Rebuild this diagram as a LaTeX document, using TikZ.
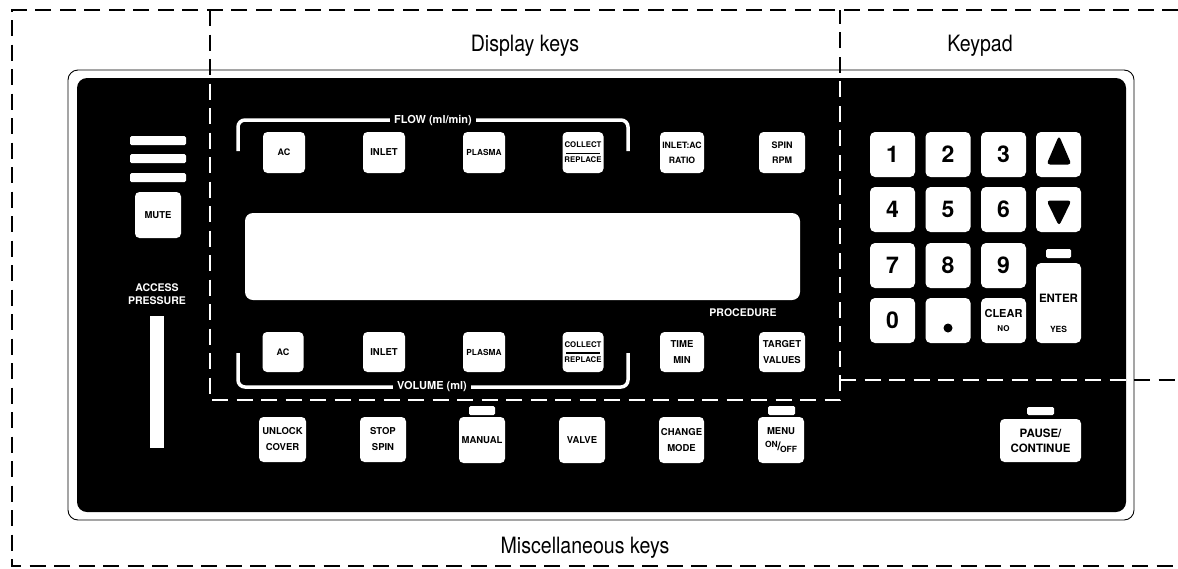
\documentclass[tikz,border=0pt]{standalone}
\usepackage{fontspec}
\setmainfont{TeX Gyre Heros}
\newfontfamily\hdfont[FakeStretch=0.87]{TeX Gyre Heros}
\begin{document}
\begin{tikzpicture}[x=1pt,y=-1pt,
  frame/.style={dash pattern=on 16pt off 8.5pt, line width=2.6pt},
  key/.style={fill=white, rounded corners=4.5pt, inner sep=0pt, align=center, text=black,
              font=\bfseries\fontsize{9.5}{16}\selectfont},
  pad/.style={key, minimum width=45pt, minimum height=45pt, rounded corners=5pt,
              font=\bfseries\fontsize{23}{23}\selectfont},
  ind/.style={fill=white, rounded corners=1.5pt, minimum width=26pt, minimum height=9pt, inner sep=0pt},
  bar/.style={fill=white, rounded corners=1.5pt, minimum width=56pt, minimum height=9pt, inner sep=0pt},
  wtxt/.style={text=white, align=center, inner sep=0pt},
  btxt/.style={text=black, align=center, inner sep=0pt},
  hd/.style={font=\hdfont\fontsize{22.5}{27}\selectfont, anchor=base, inner sep=0pt},
  brk/.style={draw=white, line width=3.5pt, rounded corners=7pt},
  collect/.style={path picture={\draw[black,line width=1.3pt]
      ([xshift=-17pt,yshift=-1pt]path picture bounding box.center) --
      ([xshift=17pt,yshift=-1pt]path picture bounding box.center);}}
]
\useasboundingbox (0,0) rectangle (1178,568);

% dashed frames (black)
\draw[frame] (1178,10) -- (12,10) -- (12,566) -- (1178,566);
\draw[frame] (210,10) -- (210,400) -- (840,400) -- (840,10);
\draw[frame] (840,380) -- (1178,380);

% panel
\draw[line width=0.9pt, rounded corners=10pt] (68,70) rectangle (1134,520);
\fill[black, rounded corners=10pt] (77,78) rectangle (1126,512);

% dashed frames (white, over the panel)
\begin{scope}
  \clip[rounded corners=10pt] (77,78) rectangle (1126,512);
  \draw[frame, white] (1178,10) -- (12,10) -- (12,566) -- (1178,566);
  \draw[frame, white] (210,10) -- (210,400) -- (840,400) -- (840,10);
  \draw[frame, white] (840,380) -- (1178,380);
\end{scope}

% headings
\node[hd] (hdisp) at (525,51) {Display keys};
\node[hd] (hpad) at (980,51) {Keypad};
\node[hd] (hmisc) at (585,553) {Miscellaneous keys};

% left column
\node[bar] (bar1) at (158,140.5) {};
\node[bar] (bar2) at (158,158.5) {};
\node[bar] (bar3) at (158,177.5) {};
\node[key, minimum width=46pt, minimum height=46pt] (mute) at (158,215) {MUTE};
\node[wtxt, font=\bfseries\fontsize{10.5}{13}\selectfont] (access) at (157,294.5) {ACCESS\\PRESSURE};
\node[fill=white, minimum width=14pt, minimum height=132pt, inner sep=0pt] (pbar) at (157,382) {};

% brackets
\draw[brk] (238,151) -- (238,120) -- (628,120) -- (628,151);
\node[wtxt, fill=black, inner xsep=4pt, inner ysep=2pt, font=\bfseries\fontsize{11}{13}\selectfont] (flow) at (433,120) {FLOW (ml/min)};
\draw[brk] (238,353) -- (238,387) -- (628,387) -- (628,353);
\node[wtxt, fill=black, inner xsep=4pt, inner ysep=2pt, font=\bfseries\fontsize{11}{13}\selectfont] (vol) at (432,387) {VOLUME (ml)};

% display
\node[fill=white, rounded corners=8pt, minimum width=555pt, minimum height=87pt, inner sep=0pt] (disp) at (522.5,256.5) {};
\node[wtxt, font=\bfseries\fontsize{10.5}{13}\selectfont] (proc) at (743,313) {PROCEDURE};

% top display row
\node[key, minimum width=42pt, minimum height=41pt, font=\bfseries\fontsize{9}{15}\selectfont] (acF) at (284,152.5) {AC};
\node[key, minimum width=42pt, minimum height=41pt] (inF) at (384,152.5) {INLET};
\node[key, minimum width=42pt, minimum height=41pt, font=\bfseries\fontsize{8.3}{15}\selectfont] (plF) at (484,152.5) {PLASMA};
\node[key, collect, minimum width=41pt, minimum height=41pt, font=\bfseries\fontsize{7.8}{15}\selectfont] (coF) at (583,152.5) {COLLECT\\REPLACE};
\node[key, minimum width=44pt, minimum height=41pt, font=\bfseries\fontsize{8.7}{15}\selectfont] (ratio) at (682,152.5) {INLET:AC\\RATIO};
\node[key, minimum width=46pt, minimum height=41pt, font=\bfseries\fontsize{9}{15}\selectfont] (spin) at (782,152.5) {SPIN\\RPM};

% bottom display row
\node[key, minimum width=41pt, minimum height=40pt, font=\bfseries\fontsize{9}{15}\selectfont] (acV) at (283,352) {AC};
\node[key, minimum width=42pt, minimum height=40pt] (inV) at (384,352) {INLET};
\node[key, minimum width=42pt, minimum height=40pt, font=\bfseries\fontsize{8.3}{15}\selectfont] (plV) at (484,352) {PLASMA};
\node[key, collect, minimum width=41pt, minimum height=40pt, font=\bfseries\fontsize{7.8}{15}\selectfont] (coV) at (583,352) {COLLECT\\REPLACE};
\node[key, minimum width=44pt, minimum height=40pt] (time) at (682,352) {TIME\\MIN};
\node[key, minimum width=46pt, minimum height=40pt] (target) at (782,352) {TARGET\\VALUES};

% miscellaneous row
\node[key, minimum width=47pt, minimum height=45pt] (unlock) at (282.5,439.5) {UNLOCK\\COVER};
\node[key, minimum width=46pt, minimum height=45pt] (stop) at (383,439.5) {STOP\\SPIN};
\node[ind] (imanual) at (482,410.5) {};
\node[key, minimum width=46pt, minimum height=46pt] (manual) at (482,440) {MANUAL};
\node[key, minimum width=46pt, minimum height=46pt] (valve) at (582,440) {VALVE};
\node[key, minimum width=45pt, minimum height=46pt] (change) at (681.5,440) {CHANGE\\MODE};
\node[ind, minimum width=27pt] (imenu) at (781.5,410.5) {};
\node[key, minimum width=46pt, minimum height=46pt] (menu) at (781,440)
  {MENU\\{\fontsize{8.5}{8.5}\selectfont\raisebox{2.5pt}{ON}\kern-0.3pt{\fontsize{12}{12}\selectfont/}\kern-0.8pt\raisebox{-2.5pt}{OFF}}};
\node[ind, minimum width=27pt, minimum height=8pt] (ipause) at (1040.5,411) {};
\node[key, minimum width=81pt, minimum height=43pt, font=\bfseries\fontsize{11.5}{15}\selectfont] (pause) at (1040.5,440.5) {PAUSE/\\CONTINUE};

% keypad
\node[pad] (k1) at (892.5,154.5) {1};
\node[pad] (k2) at (948,154.5) {2};
\node[pad] (k3) at (1003.5,154.5) {3};
\node[pad] (kup) at (1058.5,154.5) {};
\node[pad] (k4) at (892.5,209.5) {4};
\node[pad] (k5) at (948,209.5) {5};
\node[pad] (k6) at (1003.5,209.5) {6};
\node[pad] (kdown) at (1058.5,209.5) {};
\node[pad] (k7) at (892.5,265.5) {7};
\node[pad] (k8) at (948,265.5) {8};
\node[pad] (k9) at (1003.5,265.5) {9};
\node[pad] (k0) at (892.5,320.5) {0};
\node[pad] (kdot) at (948,320.5) {};
\node[pad] (kclear) at (1003.5,320.5) {};
\node[ind, minimum width=25pt] (ienter) at (1058.5,253.5) {};
\node[pad, minimum height=80pt] (kenter) at (1058.5,303) {};

\fill[black] (kdot.center) ++(0,7.5) circle (4.5pt);
\node[btxt, font=\bfseries\fontsize{11}{11}\selectfont] (tclear) at (1003.5,313) {CLEAR};
\node[btxt, font=\bfseries\fontsize{8}{8}\selectfont] (tno) at (1003.5,329) {NO};
\node[btxt, font=\bfseries\fontsize{11.5}{11.5}\selectfont] (tenter) at (1058.5,298) {ENTER};
\node[btxt, font=\bfseries\fontsize{8.5}{8.5}\selectfont] (tyes) at (1058.5,329) {YES};

\fill[black, rounded corners=3.5pt] (1059,135.5) -- (1071.5,164.5) -- (1046.5,164.5) -- cycle;
\fill[black, rounded corners=3.5pt] (1046.5,200.5) -- (1071.5,200.5) -- (1059,226) -- cycle;
\end{tikzpicture}
\end{document}
